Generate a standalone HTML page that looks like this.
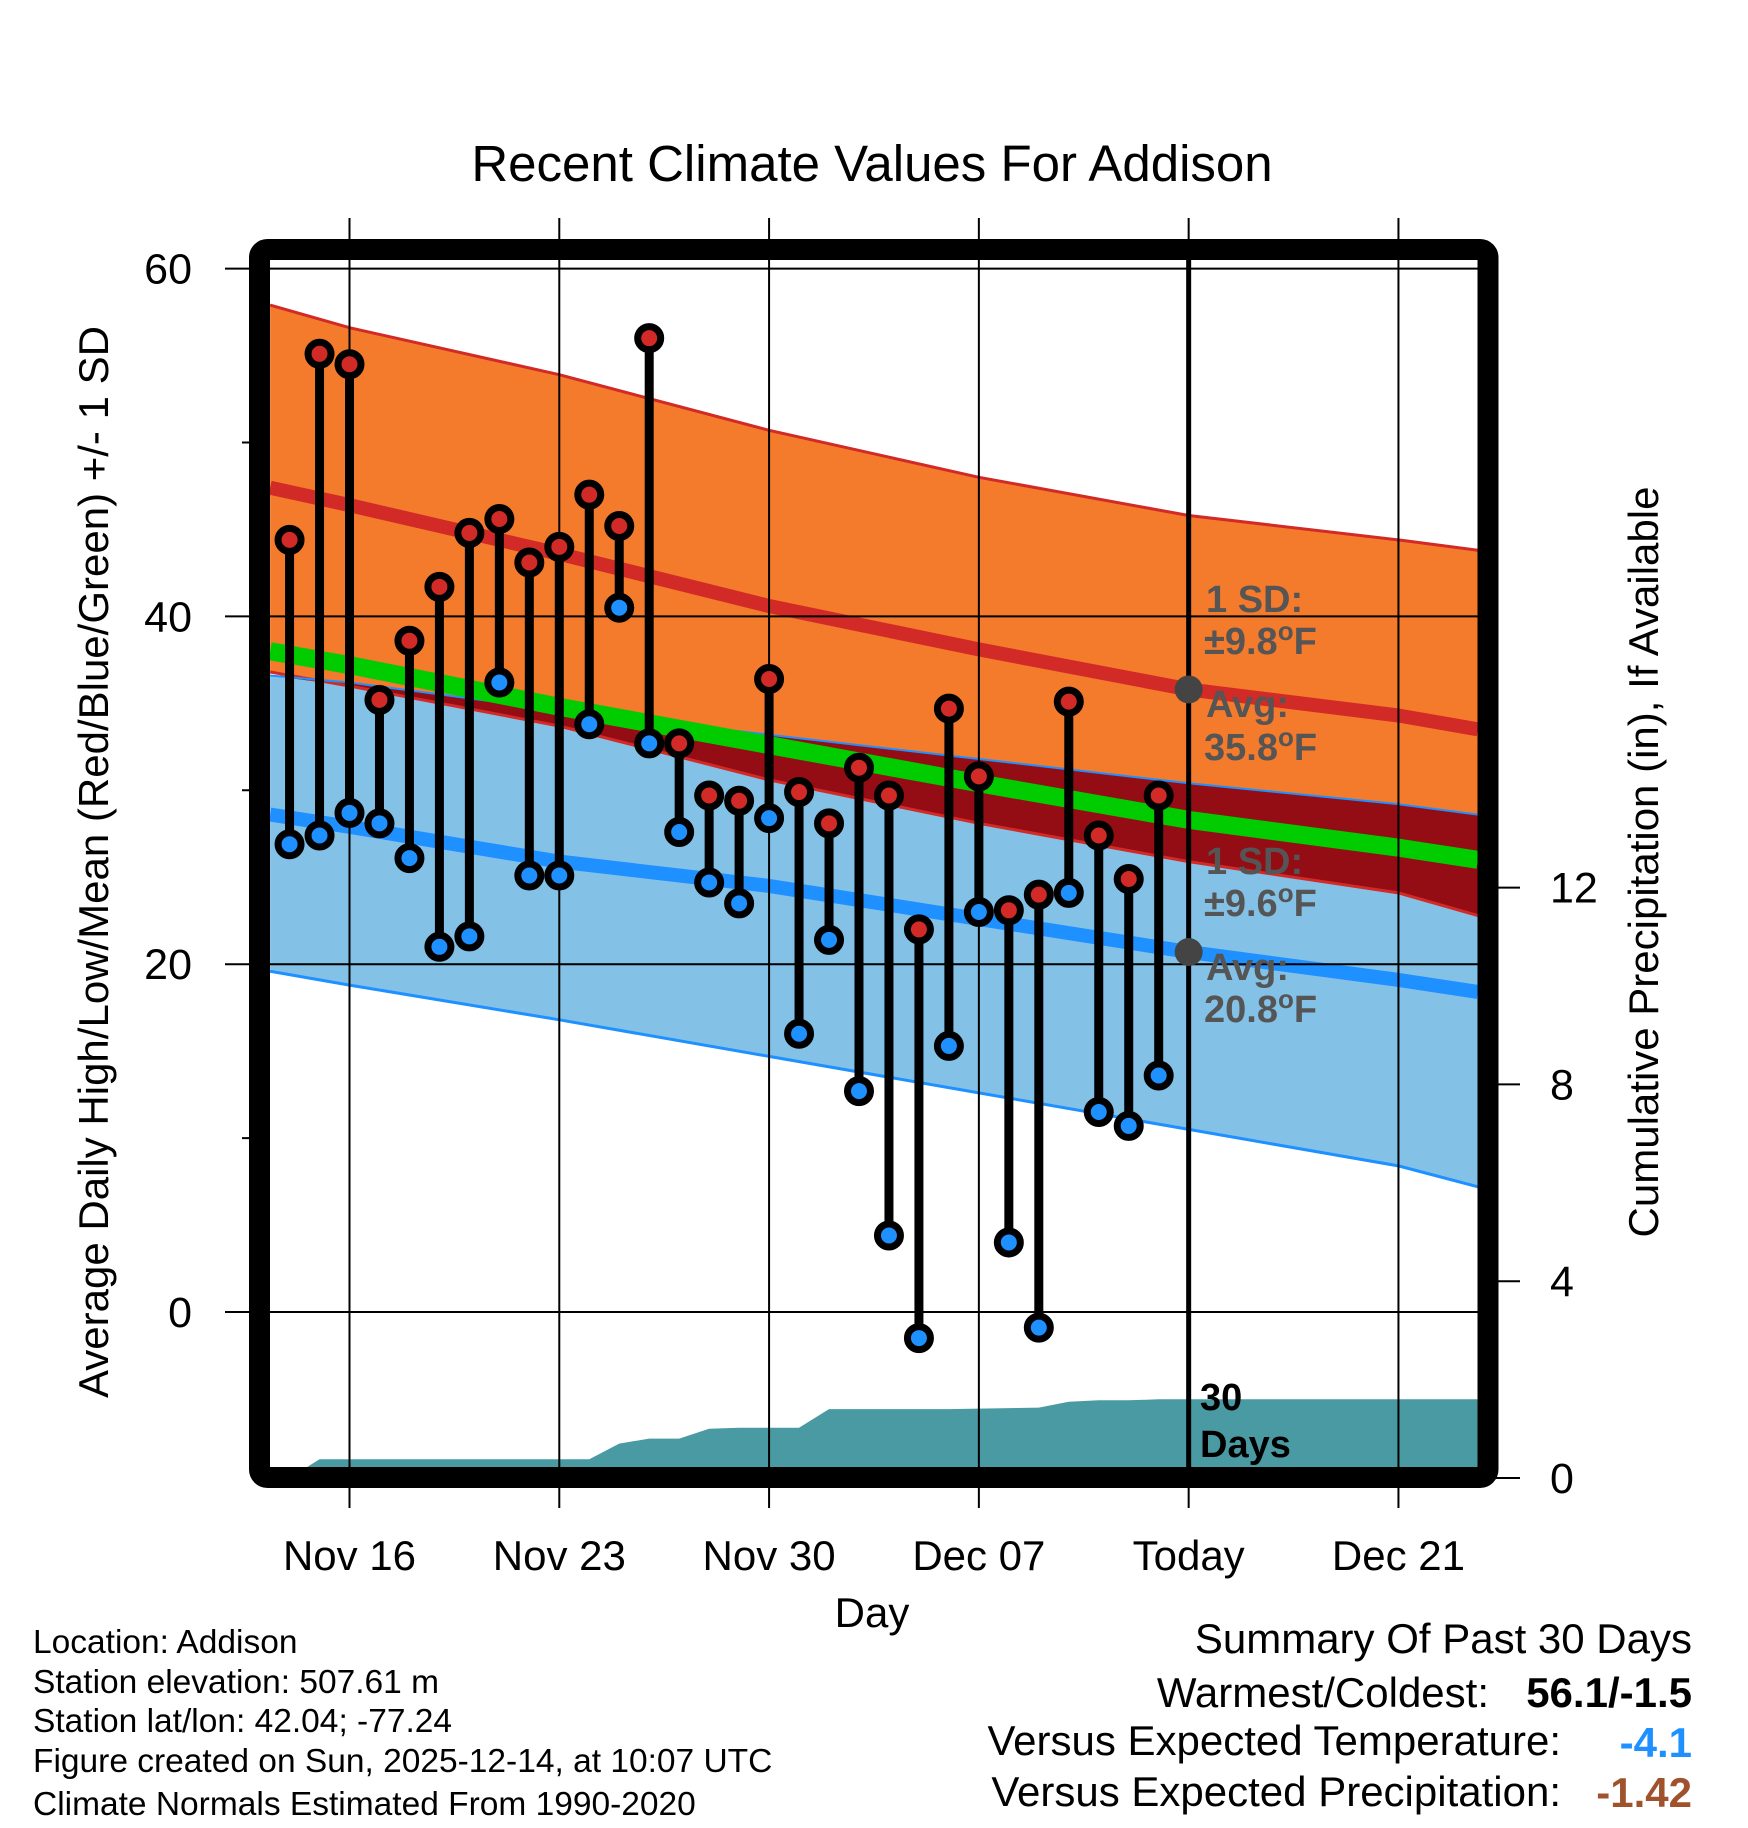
<!DOCTYPE html>
<html><head><meta charset="utf-8">
<style>
html,body{margin:0;padding:0;background:#fff;}
svg{display:block;font-family:"Liberation Sans",Arial,sans-serif;}
</style></head>
<body>
<svg id="chart" width="1748" height="1828" viewBox="0 0 1748 1828" xmlns="http://www.w3.org/2000/svg">
<defs><clipPath id="plotclip"><rect x="270" y="260" width="1208" height="1208"/></clipPath></defs>
<rect x="0" y="0" width="1748" height="1828" fill="#fff"/>
<text x="872" y="181" font-size="51" text-anchor="middle">Recent Climate Values For Addison</text>
<g id="plot" clip-path="url(#plotclip)"></g>
<g id="overlay"></g>
</svg>
<script>
// ---- data (day offsets relative to Nov 16) ----
const obsDays = [-2,-1,0,1,2,3,4,5,6,7,8,9,10,11,12,13,14,15,16,17,18,19,20,21,22,23,24,25,26,27];
const highs = [44.4,55.1,54.5,35.2,38.6,41.7,44.8,45.6,43.1,44.0,47.0,45.2,56.0,32.7,29.7,29.4,36.4,29.9,28.1,31.3,29.7,22.0,34.7,30.8,23.1,24.0,35.1,27.4,24.9,29.7];
const lows = [26.9,27.4,28.7,28.1,26.1,21.0,21.6,36.2,25.1,25.1,33.8,40.5,32.7,27.6,24.7,23.5,28.4,16.0,21.4,12.7,4.4,-1.5,15.3,23.0,4.0,-0.9,24.1,11.5,10.7,13.6];
const precipCum = [0,0.38,0.38,0.38,0.38,0.38,0.38,0.38,0.38,0.38,0.38,0.7,0.8,0.8,1.0,1.02,1.02,1.02,1.4,1.4,1.4,1.4,1.4,1.41,1.42,1.43,1.55,1.58,1.58,1.6];
const normDays = [-2.65,0,7,14,21,28,35,37.65];
const highPlusSD = [57.9,56.6,53.9,50.7,48.0,45.8,44.4,43.8];
const highAvg = [47.4,46.4,43.6,40.6,38.1,35.8,34.3,33.5];
const highMinusSD = [36.8,36.0,33.7,30.6,28.1,25.9,24.1,22.8];
const lowPlusSD = [36.6,36.2,34.6,33.2,31.8,30.4,29.2,28.6];
const lowAvg = [28.6,27.9,25.9,24.5,22.6,20.7,19.1,18.4];
const lowMinusSD = [19.6,18.8,16.8,14.7,12.6,10.5,8.4,7.2];
const meanAvg = [38.0,37.2,34.8,32.6,30.4,28.3,26.7,26.0];
const tickDays = [0,7,14,21,28,35];
const tickLabels = ["Nov 16","Nov 23","Nov 30","Dec 07","Today","Dec 21"];
const yTicks = [0,20,40,60];
const yMinor = [10,30,50];
const pTicks = [0,4,8,12];
const todayDay = 28;

const NS="http://www.w3.org/2000/svg";
const xD = d => 349.5 + d*29.97;
const yT = v => 1312 - v*17.39;
const yP = p => 1478 - p*49.2;
const plot = document.getElementById('plot');
const ov = document.getElementById('overlay');
function mk(tag, attrs, parent){const e=document.createElementNS(NS,tag);for(const k in attrs)e.setAttribute(k,attrs[k]);parent.appendChild(e);return e;}
function pts(days, vals, f){return days.map((d,i)=>xD(d).toFixed(1)+','+f(vals[i]).toFixed(1));}

let e = mk('polygon',{points:pts(normDays,highPlusSD,yT).concat(pts(normDays,highMinusSD,yT).reverse()).join(' '),fill:'#f47a2c'},plot);


e = mk('polygon',{points:pts(normDays,lowPlusSD,yT).concat(pts(normDays,lowMinusSD,yT).reverse()).join(' '),fill:'#83c1e7'},plot);


const ovBottom = lowPlusSD.map((v,i)=>Math.min(v,highMinusSD[i]));
e = mk('polygon',{points:pts(normDays,lowPlusSD,yT).concat(pts(normDays,ovBottom,yT).reverse()).join(' '),fill:'#940d15'},plot);


const pd=[-2.65].concat(obsDays).concat([37.65]);
const pv=[0].concat(precipCum).concat([precipCum[precipCum.length-1]]);
e = mk('polygon',{points:pts(pd,pv,yP).concat([xD(37.65)+','+yP(0),xD(-2.65)+','+yP(0)]).join(' '),fill:'#4a9aa3'},plot);


[[highPlusSD,'#d22a26',3,'high-plus-sd-line'],[highMinusSD,'#d22a26',3,'high-minus-sd-line'],[lowPlusSD,'#1e90ff',2,'low-plus-sd-line'],[lowMinusSD,'#1e90ff',3,'low-minus-sd-line'],[highAvg,'#d22a26',14,'high-avg-line'],[lowAvg,'#1e90ff',14,'low-avg-line'],[meanAvg,'#00cc00',18,'mean-avg-line']].forEach(s=>{
  const l=mk('polyline',{points:pts(normDays,s[0],yT).join(' '),fill:'none',stroke:s[1],'stroke-width':s[2]},plot);
  
  
});
yTicks.forEach(v=>{
  const l=mk('line',{x1:225,x2:1478,y1:yT(v),y2:yT(v),stroke:'#000','stroke-width':2},ov);
  
  
  const t=mk('text',{x:192,y:yT(v)+15,'font-size':43,'text-anchor':'end'},ov);t.textContent=v;
  
  
});
yMinor.forEach(v=>{
  const l=mk('line',{x1:242,x2:260,y1:yT(v),y2:yT(v),stroke:'#000','stroke-width':2},ov);
  
  
});
tickDays.forEach((d,i)=>{
  const l=mk('line',{x1:xD(d),x2:xD(d),y1:218,y2:1508,stroke:'#000','stroke-width':2},ov);
  
  
  const t=mk('text',{x:xD(d),y:1570,'font-size':42,'text-anchor':'middle'},ov);t.textContent=tickLabels[i];
  
  
});
pTicks.forEach(p=>{
  const l=mk('line',{x1:1488,x2:1520,y1:yP(p),y2:yP(p),stroke:'#000','stroke-width':2},ov);
  
  
  const t=mk('text',{x:1550,y:yP(p)+15,'font-size':43},ov);t.textContent=p;
  
  
});
obsDays.forEach((d,i)=>{
  const x=xD(d);
  const l=mk('line',{x1:x,x2:x,y1:yT(highs[i]),y2:yT(lows[i]),stroke:'#000','stroke-width':9},ov);
  
  
});
obsDays.forEach((d,i)=>{
  const x=xD(d);
  const h=mk('circle',{cx:x,cy:yT(highs[i]),r:11.5,fill:'#d22a26',stroke:'#000','stroke-width':7},ov);
  
  
  const lo=mk('circle',{cx:x,cy:yT(lows[i]),r:11.5,fill:'#1e90ff',stroke:'#000','stroke-width':7},ov);
  
  
});
e=mk('line',{x1:xD(todayDay),x2:xD(todayDay),y1:260,y2:1468,stroke:'#000','stroke-width':5},ov);


const ti=normDays.indexOf(todayDay);
e=mk('circle',{cx:xD(todayDay),cy:yT(highAvg[ti]),r:14,fill:'#444'},ov);


e=mk('circle',{cx:xD(todayDay),cy:yT(lowAvg[ti]),r:14,fill:'#444'},ov);


e=mk('rect',{x:259.5,y:249.5,width:1228.5,height:1228,fill:'none',stroke:'#000','stroke-width':21,rx:8},ov);


</script>
<svg style="position:absolute;left:0;top:0" width="1748" height="1828">
<g font-family="Liberation Sans, Arial, sans-serif">
<g font-weight="bold" font-size="38" fill="#555">
<text x="1206" y="612">1 SD:</text>
<text x="1204" y="654">±9.8<tspan font-size="26" dy="-14">o</tspan><tspan dy="14">F</tspan></text>
<text x="1206" y="717">Avg:</text>
<text x="1204" y="760">35.8<tspan font-size="26" dy="-14">o</tspan><tspan dy="14">F</tspan></text>
<text x="1206" y="874">1 SD:</text>
<text x="1204" y="916">±9.6<tspan font-size="26" dy="-14">o</tspan><tspan dy="14">F</tspan></text>
<text x="1206" y="980">Avg:</text>
<text x="1204" y="1022">20.8<tspan font-size="26" dy="-14">o</tspan><tspan dy="14">F</tspan></text>
</g>
<text x="1200" y="1410" font-weight="bold" font-size="38">30</text>
<text x="1200" y="1457" font-weight="bold" font-size="38">Days</text>
<text x="872" y="1627" font-size="42" text-anchor="middle">Day</text>
<text transform="translate(108,862) rotate(-90)" font-size="42" text-anchor="middle">Average Daily High/Low/Mean (Red/Blue/Green) +/- 1 SD</text>
<text transform="translate(1658,862) rotate(-90)" font-size="42" text-anchor="middle">Cumulative Precipitation (in), If Available</text>
<g font-size="33.5">
<text x="33" y="1653">Location: Addison</text>
<text x="33" y="1693">Station elevation: 507.61 m</text>
<text x="33" y="1732">Station lat/lon: 42.04; -77.24</text>
<text x="33" y="1772">Figure created on Sun, 2025-12-14, at 10:07 UTC</text>
<text x="33" y="1815">Climate Normals Estimated From 1990-2020</text>
</g>
<g font-size="42">
<text x="1692" y="1653" text-anchor="end">Summary Of Past 30 Days</text>
<text x="1489" y="1707" text-anchor="end">Warmest/Coldest:</text>
<text x="1692" y="1707" text-anchor="end" font-weight="bold">56.1/-1.5</text>
<text x="1561" y="1755" text-anchor="end">Versus Expected Temperature:</text>
<text x="1692" y="1757" text-anchor="end" font-weight="bold" fill="#1e90ff">-4.1</text>
<text x="1561" y="1806" text-anchor="end">Versus Expected Precipitation:</text>
<text x="1692" y="1807" text-anchor="end" font-weight="bold" fill="#a0522d">-1.42</text>
</g>
</g>
</svg>
</body></html>
